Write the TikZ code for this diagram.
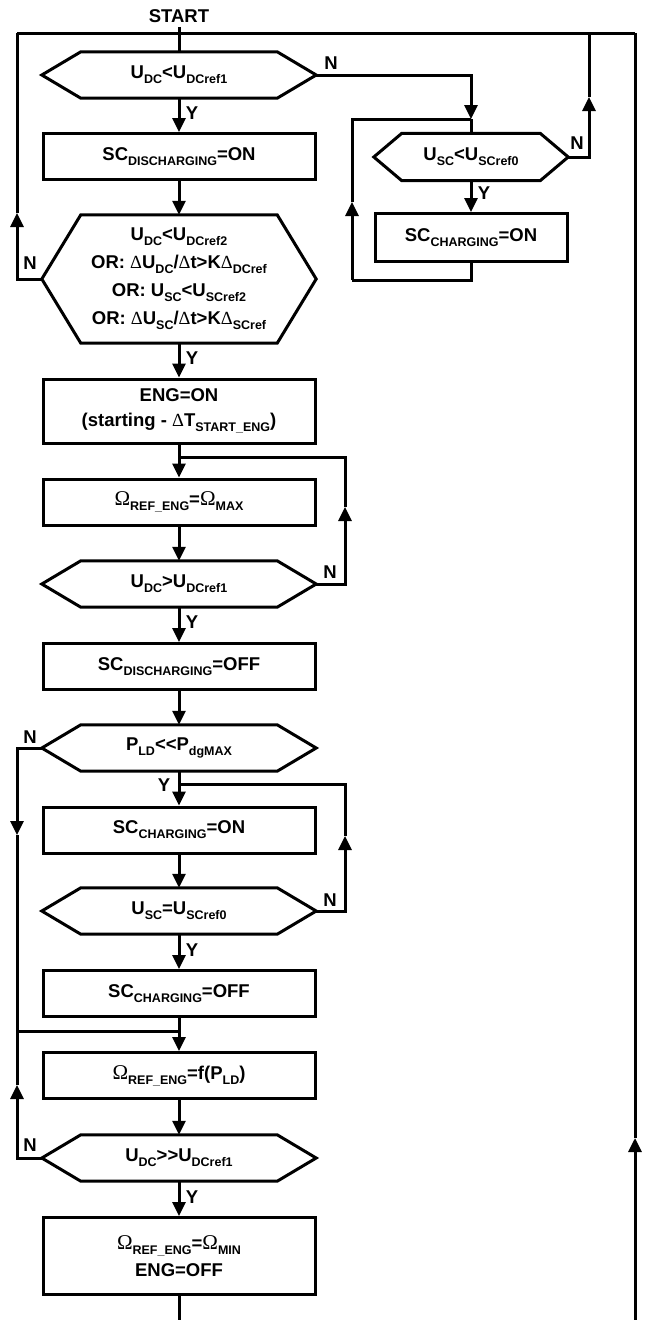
\documentclass[tikz,border=0pt]{standalone}
\usepackage{fontspec}
\setmainfont{Liberation Sans}
\newfontfamily\grk{Liberation Serif}
\usetikzlibrary{calc,arrows.meta}
\def\fnt{\fontsize{18.5}{28}\selectfont\bfseries}
\def\dn#1{\raisebox{-5pt}{\fontsize{12.5}{14}\selectfont #1}}
\def\Dlt{{\grk\mdseries Δ}}
\def\Omg{{\grk\mdseries\fontsize{21}{28}\selectfont Ω}}
\def\hexa(#1)(#2){\draw[wire] (#1.north west) -- (#1.north east) -- ($(#1.east)+(#2,0)$) coordinate (#1-r) -- (#1.south east) -- (#1.south west) -- ($(#1.west)-(#2,0)$) coordinate (#1-l) -- cycle;}
\tikzset{
	wire/.style={line width=3pt},
	flow/.style={line width=3pt, -{Triangle[length=14pt,width=13pt]}},
	proc/.style={draw, line width=3pt, minimum width=272pt, minimum height=46pt, inner sep=0pt, align=center, font=\fnt},
	test/.style={minimum width=196pt, minimum height=46pt, inner sep=0pt, align=center, font=\fnt},
	lbl/.style={inner sep=0pt, font=\fnt}
}

\begin{document}
\begin{tikzpicture}[x=1pt, y=-1pt]
		%%%%% START %%%%%
		\useasboundingbox (0,0) rectangle (649,1320);
		\node[lbl, inner sep=4pt] (start) at (179,16) {START};
		
		\node[test] (h1) at (179,75) {U\dn{DC}<U\dn{DCref1}};
		\hexa(h1)(39)
		\node[proc] (b1) at (179,156.5) {SC\dn{DISCHARGING}=ON};
		\node[test, minimum height=128pt] (h2) at (179,279) {U\dn{DC}<U\dn{DCref2}\\OR: \Dlt U\dn{DC}/\Dlt t>K\Dlt\dn{DCref}\\OR: U\dn{SC}<U\dn{SCref2}\\OR: \Dlt U\dn{SC}/\Dlt t>K\Dlt\dn{SCref}};
		\hexa(h2)(39)
		\node[proc, minimum height=64pt, font=\fontsize{18.5}{25}\selectfont\bfseries] (b2) at (179,411) {ENG=ON\\(starting - \Dlt T\dn{START\_ENG})};
		\node[proc] (b3) at (179,502) {\Omg\dn{REF\_ENG}=\Omg\dn{MAX}};
		\node[test] (h3) at (179,584) {U\dn{DC}>U\dn{DCref1}};
		\hexa(h3)(39)
		\node[proc] (b4) at (179,666.5) {SC\dn{DISCHARGING}=OFF};
		\node[test] (h4) at (179,748) {P\dn{LD}<{}<P\dn{dgMAX}};
		\hexa(h4)(39)
		\node[proc] (b5) at (179,830) {SC\dn{CHARGING}=ON};
		\node[test] (h5) at (179,911) {U\dn{SC}=U\dn{SCref0}};
		\hexa(h5)(39)
		\node[proc] (b6) at (179,993.5) {SC\dn{CHARGING}=OFF};
		\node[proc] (b7) at (179,1075.5) {\Omg\dn{REF\_ENG}=f(P\dn{LD})};
		\node[test] (h6) at (179,1158) {U\dn{DC}>{}>U\dn{DCref1}};
		\hexa(h6)(39)
		\node[proc, minimum height=77pt, font=\fontsize{18.5}{27}\selectfont\bfseries] (b8) at (179,1256) {\Omg\dn{REF\_ENG}=\Omg\dn{MIN}\\ENG=OFF};
		
		\node[test, minimum width=138pt, minimum height=47pt] (h7) at (471,157) {U\dn{SC}<U\dn{SCref0}};
		\hexa(h7)(28)
		\node[proc, minimum width=192pt, minimum height=48pt] (b9) at (471,237.5) {SC\dn{CHARGING}=ON};
		
		% Y / N
		\node[lbl] (y1) at (192,113) {Y};
		\node[lbl] (n1) at (331,63) {N};
		\node[lbl] (n2) at (30,263) {N};
		\node[lbl] (y2) at (192,358) {Y};
		\node[lbl] (n3) at (330,572) {N};
		\node[lbl] (y3) at (192,622) {Y};
		\node[lbl] (n4) at (30,737) {N};
		\node[lbl] (y4) at (164,785) {Y};
		\node[lbl] (n5) at (330,900) {N};
		\node[lbl] (y5) at (192,950) {Y};
		\node[lbl] (n6) at (30,1145) {N};
		\node[lbl] (y6) at (192,1197) {Y};
		\node[lbl] (n7) at (577,143) {N};
		\node[lbl] (y7) at (484,193) {Y};
		
		% junctions
		\coordinate (tl) at (17,33);
		\coordinate (tn) at (589,33);
		\coordinate (tr) at (635,33);
		\coordinate (j1) at (471,119);
		\coordinate (j2) at (179,457);
		\coordinate (j3) at (179,784);
		\coordinate (j4) at (179,1031);
		\coordinate (j5) at (17,1031);
		\coordinate (k1) at (352,280);
		\coordinate (a1) at (17,213);
		\coordinate (a2) at (352,202);
		\coordinate (a3) at (589,97);
		\coordinate (a4) at (345,507);
		\coordinate (a5) at (17,835);
		\coordinate (a6) at (345,836);
		\coordinate (a7) at (17,1085);
		\coordinate (a9) at (635,1138);
		\coordinate (bm) at (179,1322);
		\coordinate (br) at (635,1322);
		
		\draw[wire] (tl) -- (tr);
		\draw[wire] (start.south) -- (h1.north);
		\draw[flow] (h1.south) -- (b1.north);
		\draw[flow] (b1.south) -- (h2.north);
		\draw[flow] (h2.south) -- (b2.north);
		\draw[flow] (h2-l) -| (a1);
		\draw[wire] (a1) -- (tl);
		\draw[wire] (b2.south) -- (j2);
		\draw[flow] (j2) -- (b3.north);
		\draw[flow] (b3.south) -- (h3.north);
		\draw[flow] (h3-r) -| (a4);
		\draw[wire] (a4) |- (j2);
		\draw[flow] (h3.south) -- (b4.north);
		\draw[flow] (b4.south) -- (h4.north);
		\draw[wire] (h4.south) -- (j3);
		\draw[flow] (j3) -- (b5.north);
		\draw[flow] (h4-l) -| (a5);
		\draw[wire] (a5) |- (j4);
		\draw[flow] (b5.south) -- (h5.north);
		\draw[flow] (h5-r) -| (a6);
		\draw[wire] (a6) |- (j3);
		\draw[flow] (h5.south) -- (b6.north);
		\draw[wire] (b6.south) -- (j4);
		\draw[flow] (j4) -- (b7.north);
		\draw[flow] (b7.south) -- (h6.north);
		\draw[flow] (h6-l) -| (a7);
		\draw[wire] (a7) -- (j5);
		\draw[flow] (h6.south) -- (b8.north);
		\draw[wire] (b8.south) -- (bm);
		
		% right branch
		\draw[flow] (h1-r) -| (j1);
		\draw[wire] (j1) -- (h7.north);
		\draw[flow] (h7.south) -- (b9.north);
		\draw[wire] (b9.south) |- (k1);
		\draw[flow] (k1) -- (a2);
		\draw[wire] (a2) |- (j1);
		\draw[flow] (h7-r) -| (a3);
		\draw[wire] (a3) -- (tn);
		\draw[flow] (br) -- (a9);
		\draw[wire] (a9) -- (tr);
		%%%%% END %%%%%
\end{tikzpicture}
\end{document}
